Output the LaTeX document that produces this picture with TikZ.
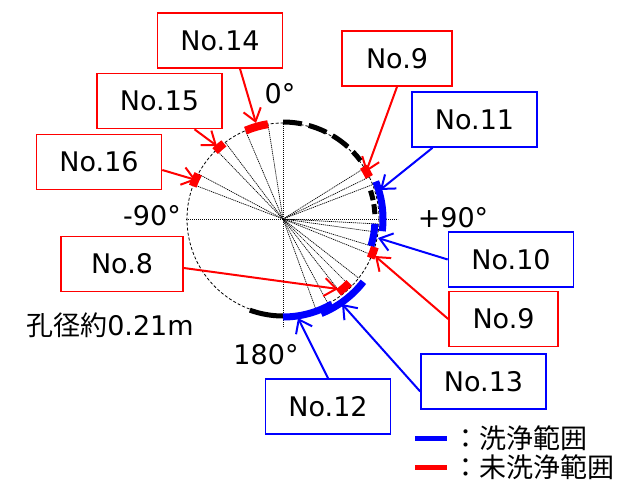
\documentclass[tikz,border=0pt]{standalone}
\usepackage{fontspec}
\setmainfont{DejaVu Sans}
\newfontfamily\jpfont{Noto Sans CJK JP}
\usetikzlibrary{arrows.meta}

\tikzset{
  box/.style={draw,line width=1.6pt,minimum height=55pt,minimum width=125pt,inner sep=0pt,text=black},
  redbox/.style={box,draw=red},
  bluebox/.style={box,draw=blue},
  lead/.style={line width=2pt,-{Straight Barb[length=12pt,width=18pt,line width=2pt]}},
  ray/.style={black,line width=0.7pt,dash pattern=on 1.2pt off 0.8pt},
  axisline/.style={black,line width=0.7pt,dash pattern=on 1.2pt off 0.8pt},
  hole/.style={black,line width=0.8pt,dash pattern=on 3pt off 2pt},
  redseg/.style={red,line width=8pt},
  blueseg/.style={blue,line width=7pt},
  blackseg/.style={black,line width=5pt}
}

\begin{document}
\begin{tikzpicture}[x=1pt,y=-1pt,font=\fontsize{27}{32}\selectfont]
\useasboundingbox (0,0) rectangle (620,481);
\coordinate (c) at (283,219);

\draw[axisline] (186,219) -- (398,219);
\draw[axisline] (283,122) -- (283,328);
\foreach \a in {-69,-62,-44,-37,-23,-9,58,64,69,93,98,107,112,128,135,142,152,160}
  \draw[ray] (c) -- ++(\a-90:96);
\draw[hole] (c) circle[radius=96];

\draw[blackseg,dash pattern=on 19pt off 7pt] ([shift={(-90:97)}]c) arc[start angle=-90,end angle=-37,radius=97];
\draw[blackseg] ([shift={(90:97)}]c) arc[start angle=90,end angle=110,radius=97];
\draw[blackseg,dash pattern=on 10pt off 4pt] ([shift={(-18:92)}]c) arc[start angle=-18,end angle=-3,radius=92];

\foreach \a/\b in {-23/-9,-45/-38,-70/-62,57/64,107/114}
  \draw[redseg] ([shift={(\a-90:96)}]c) arc[start angle=\a-90,end angle=\b-90,radius=96];
\draw[blueseg] ([shift={(-22:100)}]c) arc[start angle=-22,end angle=7,radius=100];
\draw[blueseg] ([shift={(3:92)}]c) arc[start angle=3,end angle=17,radius=92];
\draw[blueseg] ([shift={(60:98)}]c) arc[start angle=60,end angle=90,radius=98];
\draw[blueseg] ([shift={(38:102)}]c) arc[start angle=38,end angle=68,radius=102];
\draw[redseg] ([shift={(44:92)}]c) arc[start angle=44,end angle=53,radius=92];

\node (n0) at (280,94) {0°};
\node (nm90) at (152,216) {-90°};
\node (np90) at (453,218) {+90°};
\node (n180) at (266,355) {180°};
\node (dia) at (110,325) {{\jpfont 孔径約}0.21m};

\node[redbox] (b14) at (220,40.5) {No.14};
\node[redbox] (b15) at (159.5,101) {No.15};
\node[redbox] (b16) at (99,162) {No.16};
\node[redbox,minimum width=110pt] (b9a) at (397,58.5) {No.9};
\node[bluebox] (b11) at (474.5,119.5) {No.11};
\node[bluebox] (b10) at (511,259.5) {No.10};
\node[redbox,minimum width=109pt] (b9b) at (503.5,319) {No.9};
\node[redbox,minimum width=122pt] (b8) at (122,264) {No.8};
\node[bluebox] (b13) at (483.5,381.5) {No.13};
\node[bluebox] (b12) at (328,406.5) {No.12};

\coordinate (t14) at (256,123);
\coordinate (t15) at (217,146);
\coordinate (t16) at (196,180);
\coordinate (t9a) at (366,172);
\coordinate (t11) at (380,190);
\coordinate (t10) at (378,238);
\coordinate (t9b) at (375,256);
\coordinate (t8) at (338,289);
\coordinate (t13) at (342,304);
\coordinate (t12) at (298,318);

\draw[lead,red] ([xshift=20pt]b14.south) -- (t14);
\draw[lead,red] ([xshift=35pt]b15.south) -- (t15);
\draw[lead,red] ([yshift=-8pt]b16.east) -- (t16);
\draw[lead,red] (b9a.south) -- (t9a);
\draw[lead,blue] ([xshift=-42pt]b11.south) -- (t11);
\draw[lead,blue] (b10.west) -- (t10);
\draw[lead,red] (b9b.west) -- (t9b);
\draw[lead,red] ([yshift=-4pt]b8.east) -- (t8);
\draw[lead,blue] ([yshift=-10pt]b13.west) -- (t13);
\draw[lead,blue] (b12.north) -- (t12);

\coordinate (l1) at (415,438);
\coordinate (l2) at (415,467);
\draw[blue,line width=5pt] (l1) -- ++(32,0);
\draw[red,line width=5pt] (l2) -- ++(32,0);
\node[anchor=west,inner sep=0pt] (lt1) at (452,438) {\jpfont ：洗浄範囲};
\node[anchor=west,inner sep=0pt] (lt2) at (452,467) {\jpfont ：未洗浄範囲};
\end{tikzpicture}
\end{document}
